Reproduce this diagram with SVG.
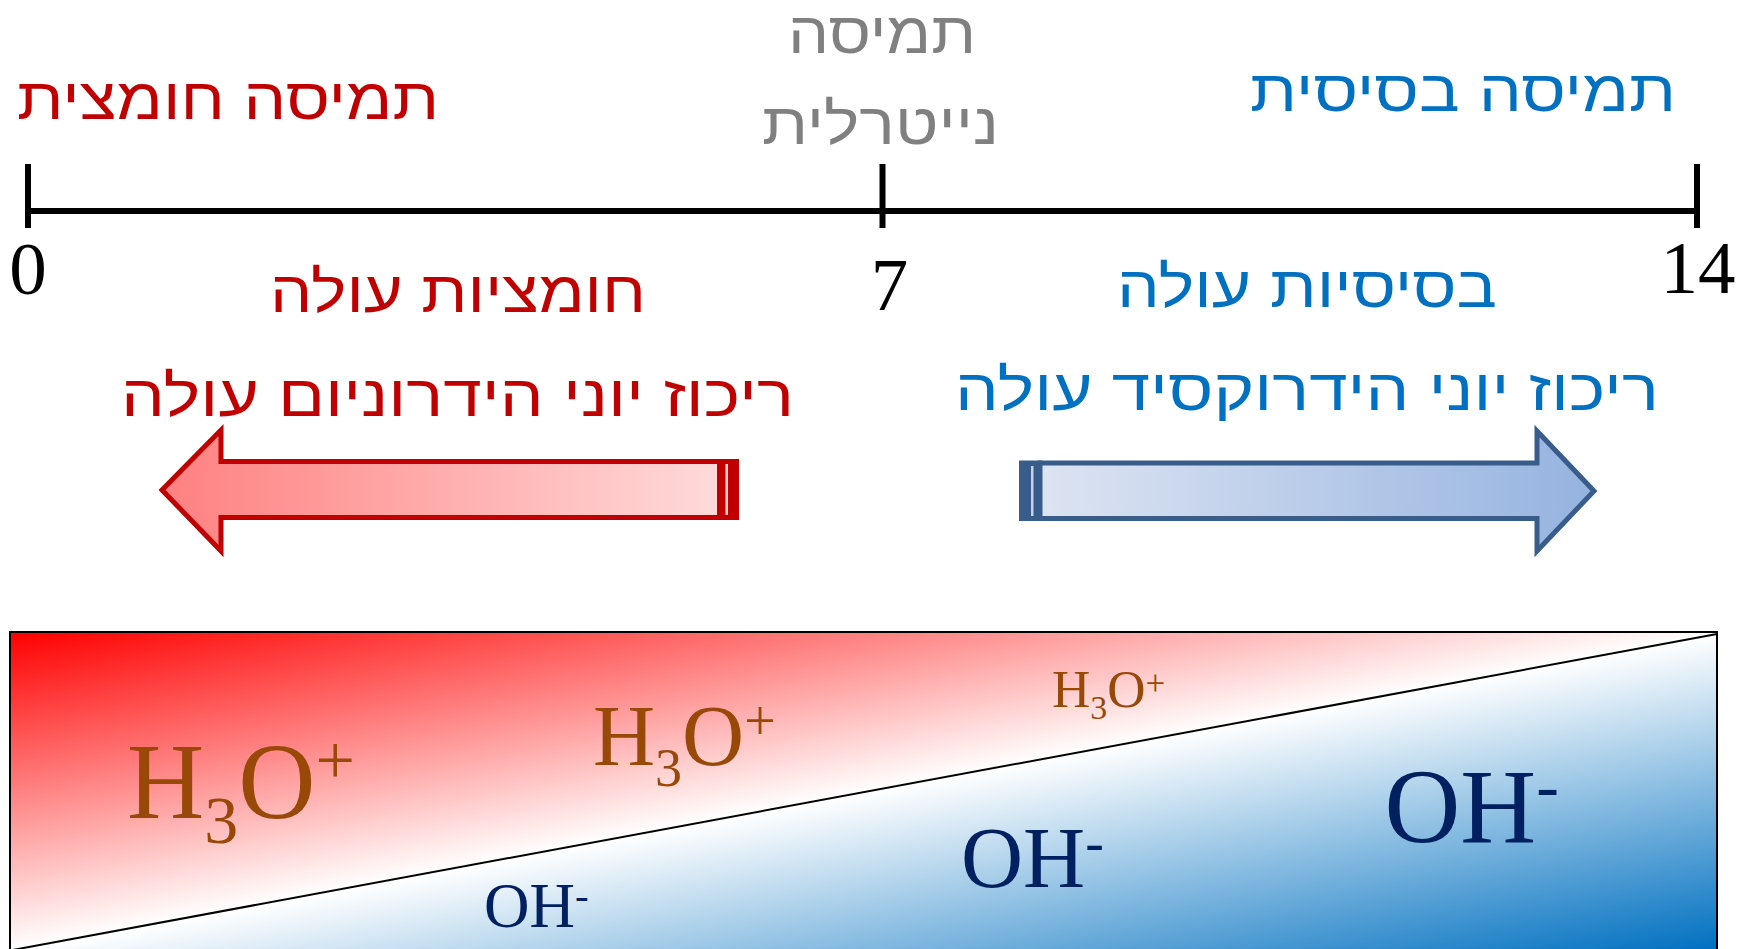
<svg xmlns="http://www.w3.org/2000/svg" width="1752" height="949" viewBox="0 0 1752 949">
  <defs>
    <linearGradient id="gRedArrow" x1="0" y1="0" x2="1" y2="0">
      <stop offset="0" stop-color="#FF8080"/>
      <stop offset="1" stop-color="#FFDADA"/>
    </linearGradient>
    <linearGradient id="gBlueArrow" x1="0" y1="0" x2="1" y2="0">
      <stop offset="0" stop-color="#DDE4F2"/>
      <stop offset="1" stop-color="#95B3E0"/>
    </linearGradient>
    <linearGradient id="gRedTri" gradientUnits="userSpaceOnUse" x1="10" y1="632" x2="67" y2="940">
      <stop offset="0" stop-color="#FF0000"/>
      <stop offset="1" stop-color="#FFFFFF"/>
    </linearGradient>
    <linearGradient id="gBlueTri" gradientUnits="userSpaceOnUse" x1="1660" y1="644.5" x2="1717" y2="950.5">
      <stop offset="0" stop-color="#FFFFFF"/>
      <stop offset="1" stop-color="#0070C0"/>
    </linearGradient>
  </defs>
  <style>
    .heb { font-family: "Liberation Sans", "DejaVu Sans", sans-serif; font-size: 58px; text-anchor: middle; }
    .num { font-family: "Liberation Serif", "Times New Roman", serif; font-size: 75px; text-anchor: middle; fill: #000; }
    .chem { font-family: "Liberation Serif", "Times New Roman", serif; }
    .red { fill: #C00000; }
    .gray { fill: #808080; }
    .blue { fill: #0070C0; }
    .brown { fill: #984807; }
    .navy { fill: #002060; }
  </style>

  <g id="axis" stroke="#000" stroke-width="6" fill="none">
    <line x1="28" y1="211" x2="1697" y2="211"/>
    <line x1="28" y1="164" x2="28" y2="228"/>
    <line x1="882.5" y1="164" x2="882.5" y2="228"/>
    <line x1="1697" y1="164" x2="1697" y2="228"/>
  </g>

  <g id="axis-numbers">
    <text class="num" x="28" y="294">0</text>
    <text class="num" x="889.5" y="310">7</text>
    <text class="num" x="1698" y="293">14</text>
  </g>

  <g id="label-acidic">
    <text class="heb red" x="228" y="119" textLength="422" lengthAdjust="spacingAndGlyphs">תמיסה חומצית</text>
  </g>
  <g id="label-neutral">
    <text class="heb gray" x="882" y="53" textLength="188" lengthAdjust="spacingAndGlyphs">תמיסה</text>
    <text class="heb gray" x="880.5" y="144" textLength="237" lengthAdjust="spacingAndGlyphs">נייטרלית</text>
  </g>
  <g id="label-basic">
    <text class="heb blue" x="1463" y="111" textLength="426" lengthAdjust="spacingAndGlyphs">תמיסה בסיסית</text>
  </g>

  <g id="acidity-rising">
    <text class="heb red" x="458" y="312" textLength="376" lengthAdjust="spacingAndGlyphs">חומציות עולה</text>
    <text class="heb red" x="457.5" y="416" textLength="673" lengthAdjust="spacingAndGlyphs">ריכוז יוני הידרוניום עולה</text>
  </g>
  <g id="basicity-rising">
    <text class="heb blue" x="1307" y="307" textLength="380" lengthAdjust="spacingAndGlyphs">בסיסיות עולה</text>
    <text class="heb blue" x="1307" y="410" textLength="704" lengthAdjust="spacingAndGlyphs">ריכוז יוני הידרוקסיד עולה</text>
  </g>

  <g id="connectors">
    <g id="arrow-left">
      <polygon points="162,490 221,430 221,461.5 720,461.5 720,517.5 221,517.5 221,551" fill="url(#gRedArrow)" stroke="#C00000" stroke-width="5" stroke-linejoin="miter"/>
      <rect x="717" y="459" width="22" height="61" fill="#C00000"/>
      <rect x="725.5" y="464" width="2.5" height="51" fill="#FFD0D0"/>
    </g>
    <g id="arrow-right">
      <polygon points="1040,463 1537,463 1537,431 1594,491 1537,551 1537,518.5 1040,518.5" fill="url(#gBlueArrow)" stroke="#385D8A" stroke-width="5" stroke-linejoin="miter"/>
      <rect x="1019" y="460.5" width="23" height="60.5" fill="#385D8A"/>
      <rect x="1031" y="466" width="2.5" height="50" fill="#C5D1EA"/>
    </g>
  </g>

  <g id="concentration-box">
    <polygon points="10,632 1717,632 1717,634 10,950.5" fill="url(#gRedTri)"/>
    <polygon points="10,950.5 1717,634 1717,952 10,952" fill="url(#gBlueTri)"/>
    <line x1="10" y1="950.5" x2="1717" y2="634" stroke="#000" stroke-width="2"/>
    <rect x="10" y="632" width="1707" height="320" fill="none" stroke="#000" stroke-width="2"/>
  </g>

  <g id="hydronium-labels" class="chem brown">
    <text x="127" y="818" font-size="107">H<tspan font-size="68" dy="25">3</tspan><tspan dy="-25">O</tspan><tspan font-size="70" dy="-34">+</tspan></text>
    <text x="593" y="765" font-size="86">H<tspan font-size="54" dy="21">3</tspan><tspan dy="-21">O</tspan><tspan font-size="56" dy="-25">+</tspan></text>
    <text x="1052" y="707" font-size="53">H<tspan font-size="34" dy="12">3</tspan><tspan dy="-12">O</tspan><tspan font-size="35" dy="-12">+</tspan></text>
  </g>
  <g id="hydroxide-labels" class="chem navy">
    <text x="484" y="927" font-size="63">OH<tspan font-size="41" dy="-18">-</tspan></text>
    <text x="961" y="887" font-size="86">OH<tspan font-size="56" dy="-26.5">-</tspan></text>
    <text x="1384.5" y="842" font-size="105">OH<tspan font-size="68" dy="-34">-</tspan></text>
  </g>
</svg>
